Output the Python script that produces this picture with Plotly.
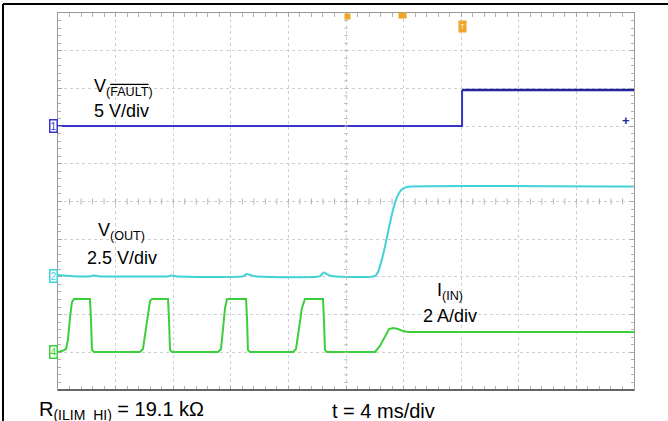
import numpy as np
import plotly.graph_objects as go

# ---- scope settings -------------------------------------------------------
TIME_PER_DIV = 4.0          # ms/div
N_DIV = 10
FAULT_SCALE, FAULT_REF = 5.0, 7.0     # V/div, ground position (div from bottom)
VOUT_SCALE, VOUT_REF = 2.5, 3.02      # V/div
IIN_SCALE, IIN_REF = 2.0, 1.008       # A/div

# ---- captured waveforms (time in ms) --------------------------------------
fault_t = [0.0, 28.06, 28.06, 40.0]
fault_v = [0.0, 0.0, 4.8, 4.8]

vout_t = [0.0, 1.0, 2.3, 2.5, 2.8, 7.7, 7.9, 8.2, 12.9, 13.1, 13.35, 13.7,
          18.2, 18.45, 18.7, 19.1, 22.01, 22.22, 22.57, 22.92, 23.26, 23.54,
          23.82, 24.10, 24.44, 40.0]
vout_v = [0.07, 0.0, 0.0, 0.05, 0.0, 0.0, 0.05, 0.0, 0.0, 0.15, 0.08, 0.0,
          0.0, 0.25, 0.12, 0.0, 0.0, 0.27, 1.39, 2.92, 4.38, 5.24,
          5.70, 5.87, 5.94, 5.94]

iin_t = [0.0, 0.28, 0.56, 0.69, 0.83, 0.97, 1.11, 2.22, 2.29, 2.36, 2.5,
         5.69, 5.90, 6.04, 6.25, 6.39, 6.53, 7.64, 7.71, 7.78, 7.92,
         11.11, 11.32, 11.46, 11.60, 11.74, 13.06, 13.13, 13.19, 13.33,
         16.32, 16.53, 16.74, 16.94, 17.15, 18.40, 18.47, 18.54, 18.68,
         22.01, 22.36, 22.71, 22.99, 23.26, 23.61, 23.96, 24.31, 40.0]
iin_a = [0.0, 0.05, 0.16, 0.64, 1.80, 2.65, 2.81, 2.81, 1.70, 0.11, 0.0,
         0.0, 0.16, 0.90, 2.23, 2.71, 2.81, 2.81, 1.70, 0.11, 0.0,
         0.0, 0.16, 1.17, 2.33, 2.81, 2.81, 1.70, 0.11, 0.0,
         0.0, 0.16, 1.17, 2.33, 2.81, 2.81, 1.70, 0.11, 0.0,
         0.0, 0.32, 0.85, 1.22, 1.27, 1.22, 1.11, 1.06, 1.06]

BLUE = "#3636c8"
BLUE_DARK = "#24249a"
CYAN = "#3fd2d6"
GREEN = "#3ccf3c"
ORANGE = "#f0a428"
FONT = "Liberation Sans, Arial, sans-serif"

T_END = TIME_PER_DIV * N_DIV


def ch_range(scale, ref):
    return [-ref * scale, (N_DIV - ref) * scale]


fig = go.Figure()
# FAULT: low level and step, then the high level drawn darker
fig.add_trace(go.Scatter(x=fault_t[:3], y=fault_v[:3], yaxis="y2", mode="lines",
                         line=dict(color=BLUE, width=2), hoverinfo="skip"))
fig.add_trace(go.Scatter(x=fault_t[2:], y=fault_v[2:], yaxis="y2", mode="lines",
                         line=dict(color=BLUE_DARK, width=2.5), hoverinfo="skip"))
fig.add_trace(go.Scatter(x=vout_t, y=vout_v, yaxis="y3", mode="lines",
                         line=dict(color=CYAN, width=2, shape="spline",
                                   smoothing=0.6), hoverinfo="skip"))
fig.add_trace(go.Scatter(x=iin_t, y=iin_a, yaxis="y4", mode="lines",
                         line=dict(color=GREEN, width=2), hoverinfo="skip"))

# graticule centre cross with fine ticks
shapes = []
tick_c = "#b4b4b4"
for k in range(1, N_DIV * 5):
    yv = k * 0.2
    shapes.append(dict(type="line", xref="x", yref="y",
                       x0=T_END / 2 - 0.12, x1=T_END / 2 + 0.12, y0=yv, y1=yv,
                       line=dict(color=tick_c, width=1)))
    xv = k * TIME_PER_DIV / 5
    shapes.append(dict(type="line", xref="x", yref="y",
                       x0=xv, x1=xv, y0=N_DIV / 2 - 0.08, y1=N_DIV / 2 + 0.08,
                       line=dict(color=tick_c, width=1)))
# bottom edge of graticule
shapes.append(dict(type="line", xref="paper", yref="paper", x0=0, x1=1,
                   y0=0, y1=0, line=dict(color="#666666", width=2)))
# outer frame
shapes.append(dict(type="line", xref="paper", yref="paper",
                   x0=-0.0955, x1=1.1, y0=1.0239, y1=1.0239,
                   line=dict(color="black", width=2)))
shapes.append(dict(type="line", xref="paper", yref="paper",
                   x0=-0.0955, x1=-0.0955, y0=1.0239, y1=-0.1,
                   line=dict(color="black", width=2)))

ann = []
lab = dict(size=18, color="black", family=FONT)
ann.append(dict(text="V<sub>(<span style='text-decoration:overline'>FAULT</span>)</sub>",
                x=0.113, y=0.802, font=lab))
ann.append(dict(text="5 V/div", x=0.111, y=0.741, font=lab))
ann.append(dict(text="V<sub>(OUT)</sub>", x=0.111, y=0.420, font=lab))
ann.append(dict(text="2.5 V/div", x=0.111, y=0.351, font=lab))
ann.append(dict(text="I<sub>(IN)</sub>", x=0.681, y=0.261, font=lab))
ann.append(dict(text="2 A/div", x=0.681, y=0.197, font=lab))
bot = dict(size=20, color="black", family=FONT)
ann.append(dict(text="R<sub>(ILIM_HI)</sub> = 19.1 kΩ", x=-0.0365, y=-0.055,
                xanchor="left", font=bot))
ann.append(dict(text="t = 4 ms/div", x=0.472, y=-0.055, xanchor="left", font=bot))
for a in ann:
    a.update(xref="paper", yref="paper", showarrow=False,
             **({} if "xanchor" in a else {"xanchor": "center"}), yanchor="middle")

# channel ground markers
for label, color, axis in (("1", BLUE, "y2"), ("2", CYAN, "y3"), ("4", GREEN, "y4")):
    ann.append(dict(text=label, xref="paper", yref=axis, x=-0.016, y=0,
                    showarrow=False, font=dict(size=10, color=color, family=FONT),
                    bordercolor=color, borderwidth=1.5, borderpad=0,
                    bgcolor="rgba(255,255,255,0.6)"))
# channel-1 level marker and trigger markers
ann.append(dict(text="<b>+</b>", xref="paper", yref="paper", x=0.9965, y=0.740,
                showarrow=False, font=dict(size=13, color=BLUE_DARK, family=FONT)))
ann.append(dict(text="T", xref="x", yref="paper", x=28.1, y=0.981,
                showarrow=False, font=dict(size=8, color="#fff3d0", family=FONT),
                bgcolor=ORANGE, borderpad=1))
ann.append(dict(text="", xref="x", yref="paper", x=20.07, y=1.0,
                showarrow=False, bgcolor=ORANGE, width=3, height=3))
ann.append(dict(text="", xref="x", yref="paper", x=23.9, y=1.003,
                showarrow=False, bgcolor=ORANGE, width=5, height=3))

axis_common = dict(showticklabels=False, zeroline=False, showline=True,
                   linecolor="#9a9a9a", mirror="allticks", ticks="inside",
                   ticklen=4, tickcolor="#a8a8a8", showgrid=True,
                   gridcolor="#cfcfcf", griddash="dot", gridwidth=1)

fig.update_layout(
    width=668, height=421,
    margin=dict(l=58, r=34, t=13, b=31),
    paper_bgcolor="white", plot_bgcolor="white",
    showlegend=False,
    xaxis=dict(range=[0, T_END], dtick=TIME_PER_DIV,
               minor=dict(dtick=TIME_PER_DIV / 5, ticks="inside", ticklen=3,
                          tickcolor="#b0b0b0", showgrid=False),
               **axis_common),
    yaxis=dict(range=[0, N_DIV], dtick=1,
               minor=dict(dtick=0.2, ticks="inside", ticklen=3,
                          tickcolor="#b0b0b0", showgrid=False),
               **axis_common),
    yaxis2=dict(overlaying="y", range=ch_range(FAULT_SCALE, FAULT_REF), visible=False),
    yaxis3=dict(overlaying="y", range=ch_range(VOUT_SCALE, VOUT_REF), visible=False),
    yaxis4=dict(overlaying="y", range=ch_range(IIN_SCALE, IIN_REF), visible=False),
    shapes=shapes,
    annotations=ann,
)

fig.write_html("out.html")
